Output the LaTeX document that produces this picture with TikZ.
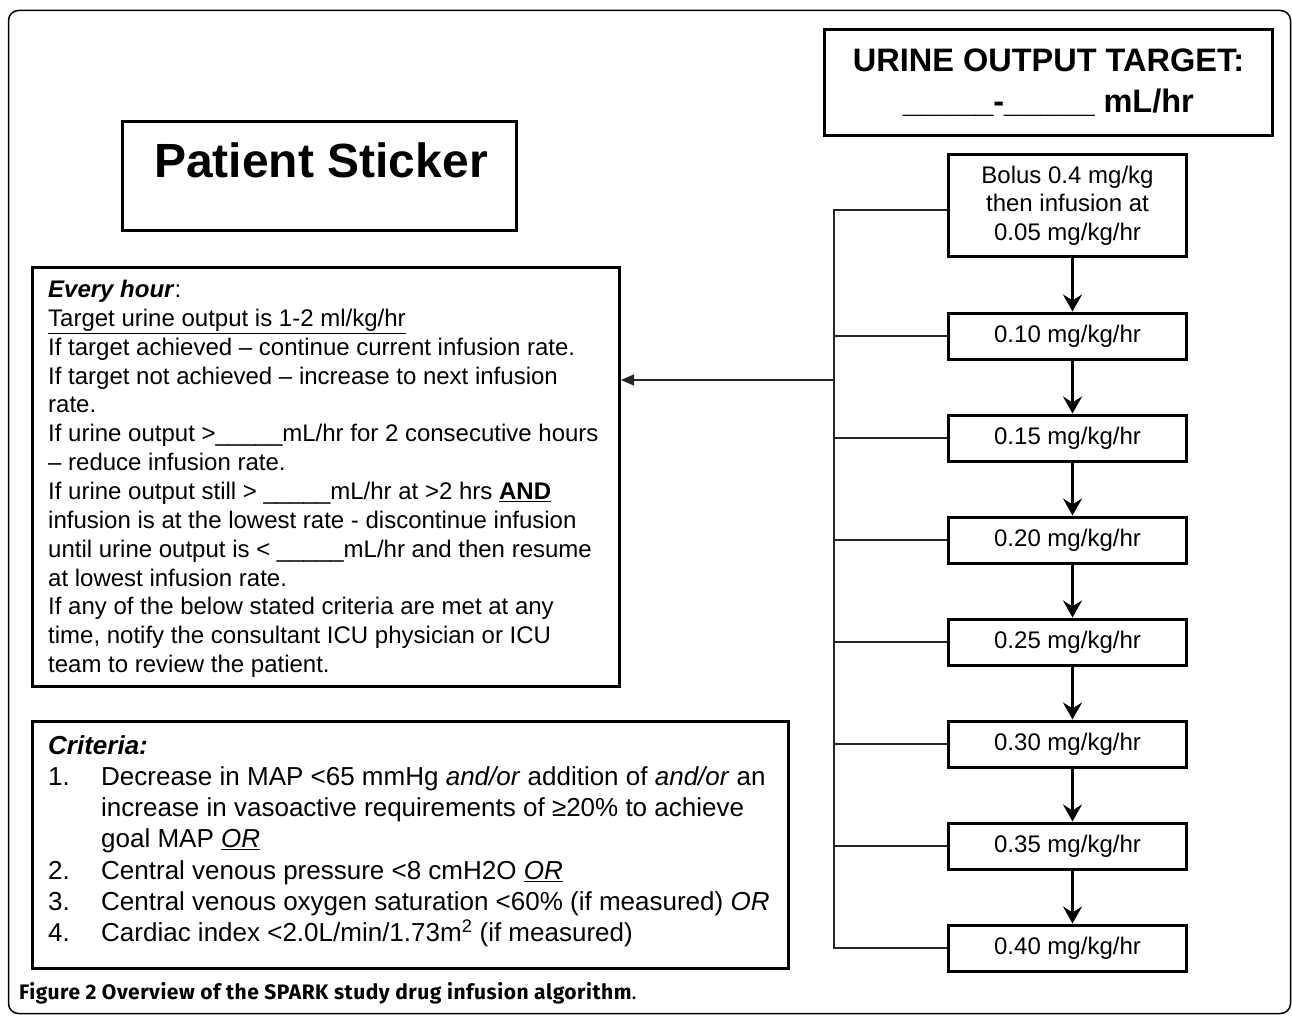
\documentclass[tikz,border=0pt]{standalone}
\usepackage{fontspec}
\setmainfont{Liberation Sans}
\newfontfamily\capfont[LetterSpace=2.5]{Fira Sans}
\usetikzlibrary{arrows.meta,calc}
\begin{document}
\begin{tikzpicture}[x=1pt,y=-1pt,
  box/.style={draw=black,line width=3pt,inner sep=0pt,fill=white},
  txt/.style={inner sep=0pt,text=black},
  thinln/.style={line width=1.5pt,draw=black!85},
  downarr/.style={line width=3pt,-{Stealth[length=17pt,width=19pt,inset=6pt]}},
  leftarr/.style={line width=1.5pt,draw=black!85,-{Triangle[length=13pt,width=11pt]}},
  body/.style={font=\fontsize{24}{28.85}\selectfont},
  crit/.style={font=\fontsize{26}{31.3}\selectfont},
  rate/.style={box,minimum width=238pt,minimum height=46pt,font=\fontsize{24}{28}\selectfont}
]
\useasboundingbox (0,0) rectangle (1292,1016);
\draw[line width=1.5pt, rounded corners=10pt] (8.5,10.5) rectangle (1290.5,1013.5);

% urine target
\node[box,minimum width=448pt,minimum height=106pt,align=center,
      font=\fontsize{32.5}{41}\selectfont\bfseries] (urine) at (1048.5,82.5)
      {URINE OUTPUT TARGET:\\\_\_\_\_\_-\_\_\_\_\_ mL/hr};

% patient sticker
\node[box,minimum width=394pt,minimum height=109pt] (sticker) at (319.5,176) {};
\node[txt,font=\fontsize{48}{52}\selectfont\bfseries] (stickertxt) at (321,160) {Patient Sticker};

% bolus and rates
\node[box,minimum width=238pt,minimum height=102pt,align=center,
      font=\fontsize{24}{28.5}\selectfont] (bolus) at (1067.5,205.5)
      {Bolus 0.4 mg/kg\\then infusion at\\0.05 mg/kg/hr};
\node[rate] (r10) at (1067.5,336) {0.10 mg/kg/hr};
\node[rate] (r15) at (1067.5,438) {0.15 mg/kg/hr};
\node[rate] (r20) at (1067.5,540) {0.20 mg/kg/hr};
\node[rate] (r25) at (1067.5,642) {0.25 mg/kg/hr};
\node[rate] (r30) at (1067.5,744) {0.30 mg/kg/hr};
\node[rate] (r35) at (1067.5,846) {0.35 mg/kg/hr};
\node[rate] (r40) at (1067.5,948) {0.40 mg/kg/hr};

\draw[downarr] ([xshift=5pt]bolus.south) -- ([xshift=5pt]r10.north);
\draw[downarr] ([xshift=5pt]r10.south) -- ([xshift=5pt]r15.north);
\draw[downarr] ([xshift=5pt]r15.south) -- ([xshift=5pt]r20.north);
\draw[downarr] ([xshift=5pt]r20.south) -- ([xshift=5pt]r25.north);
\draw[downarr] ([xshift=5pt]r25.south) -- ([xshift=5pt]r30.north);
\draw[downarr] ([xshift=5pt]r30.south) -- ([xshift=5pt]r35.north);
\draw[downarr] ([xshift=5pt]r35.south) -- ([xshift=5pt]r40.north);

% every hour box
\node[box,minimum width=587pt,minimum height=419pt] (every) at (326,477) {};
\node[txt,body,align=left,anchor=north west] (everytxt) at (48,280) {%
\textbf{\textit{Every hour}}:\\
\underline{Target urine output is 1-2 ml/kg/hr}\\
If target achieved – continue current infusion rate.\\
If target not achieved – increase to next infusion\\
rate.\\
If urine output >\_\_\_\_\_mL/hr for 2 consecutive hours\\
– reduce infusion rate.\\
If urine output still > \_\_\_\_\_mL/hr at >2 hrs \underline{\textbf{AND}}\\
infusion is at the lowest rate - discontinue infusion\\
until urine output is < \_\_\_\_\_mL/hr and then resume\\
at lowest infusion rate.\\
If any of the below stated criteria are met at any\\
time, notify the consultant ICU physician or ICU\\
team to review the patient.};

% bus connectors
\coordinate (bt) at (834,210);
\coordinate (bb) at (834,948);
\coordinate (junc) at (834,380);
\draw[thinln] (bolus.west |- bt) -- (bt) -- (bb) -- (r40.west);
\foreach \n in {r10,r15,r20,r25,r30,r35}{
  \draw[thinln] (\n.west) -- (\n.west -| bt);
}
\draw[leftarr] (junc) -- (every.east |- junc);

% criteria box
\node[box,minimum width=756pt,minimum height=247pt] (criteria) at (410.5,845) {};
\node[txt,crit,align=left,anchor=north west] (crittxt) at (48,735) {%
\textbf{\textit{Criteria:}}\\
\makebox[53pt][l]{1.}Decrease in MAP <65 mmHg \textit{and/or} addition of \textit{and/or} an\\
\hspace*{53pt}increase in vasoactive requirements of ≥20\% to achieve\\
\hspace*{53pt}goal MAP \underline{\textit{OR}}\\
\makebox[53pt][l]{2.}Central venous pressure <8 cmH2O \underline{\textit{OR}}\\
\makebox[53pt][l]{3.}Central venous oxygen saturation <60\% (if measured) \textit{OR}\\
\makebox[53pt][l]{4.}Cardiac index <2.0L/min/1.73m\textsuperscript{2} (if measured)};

% caption
\node[txt,anchor=base west,font=\capfont\fontsize{21}{24}\selectfont] (caption) at (19,999)
  {\textbf{Figure 2 Overview of the SPARK study drug infusion algorithm}.};
\end{tikzpicture}
\end{document}
